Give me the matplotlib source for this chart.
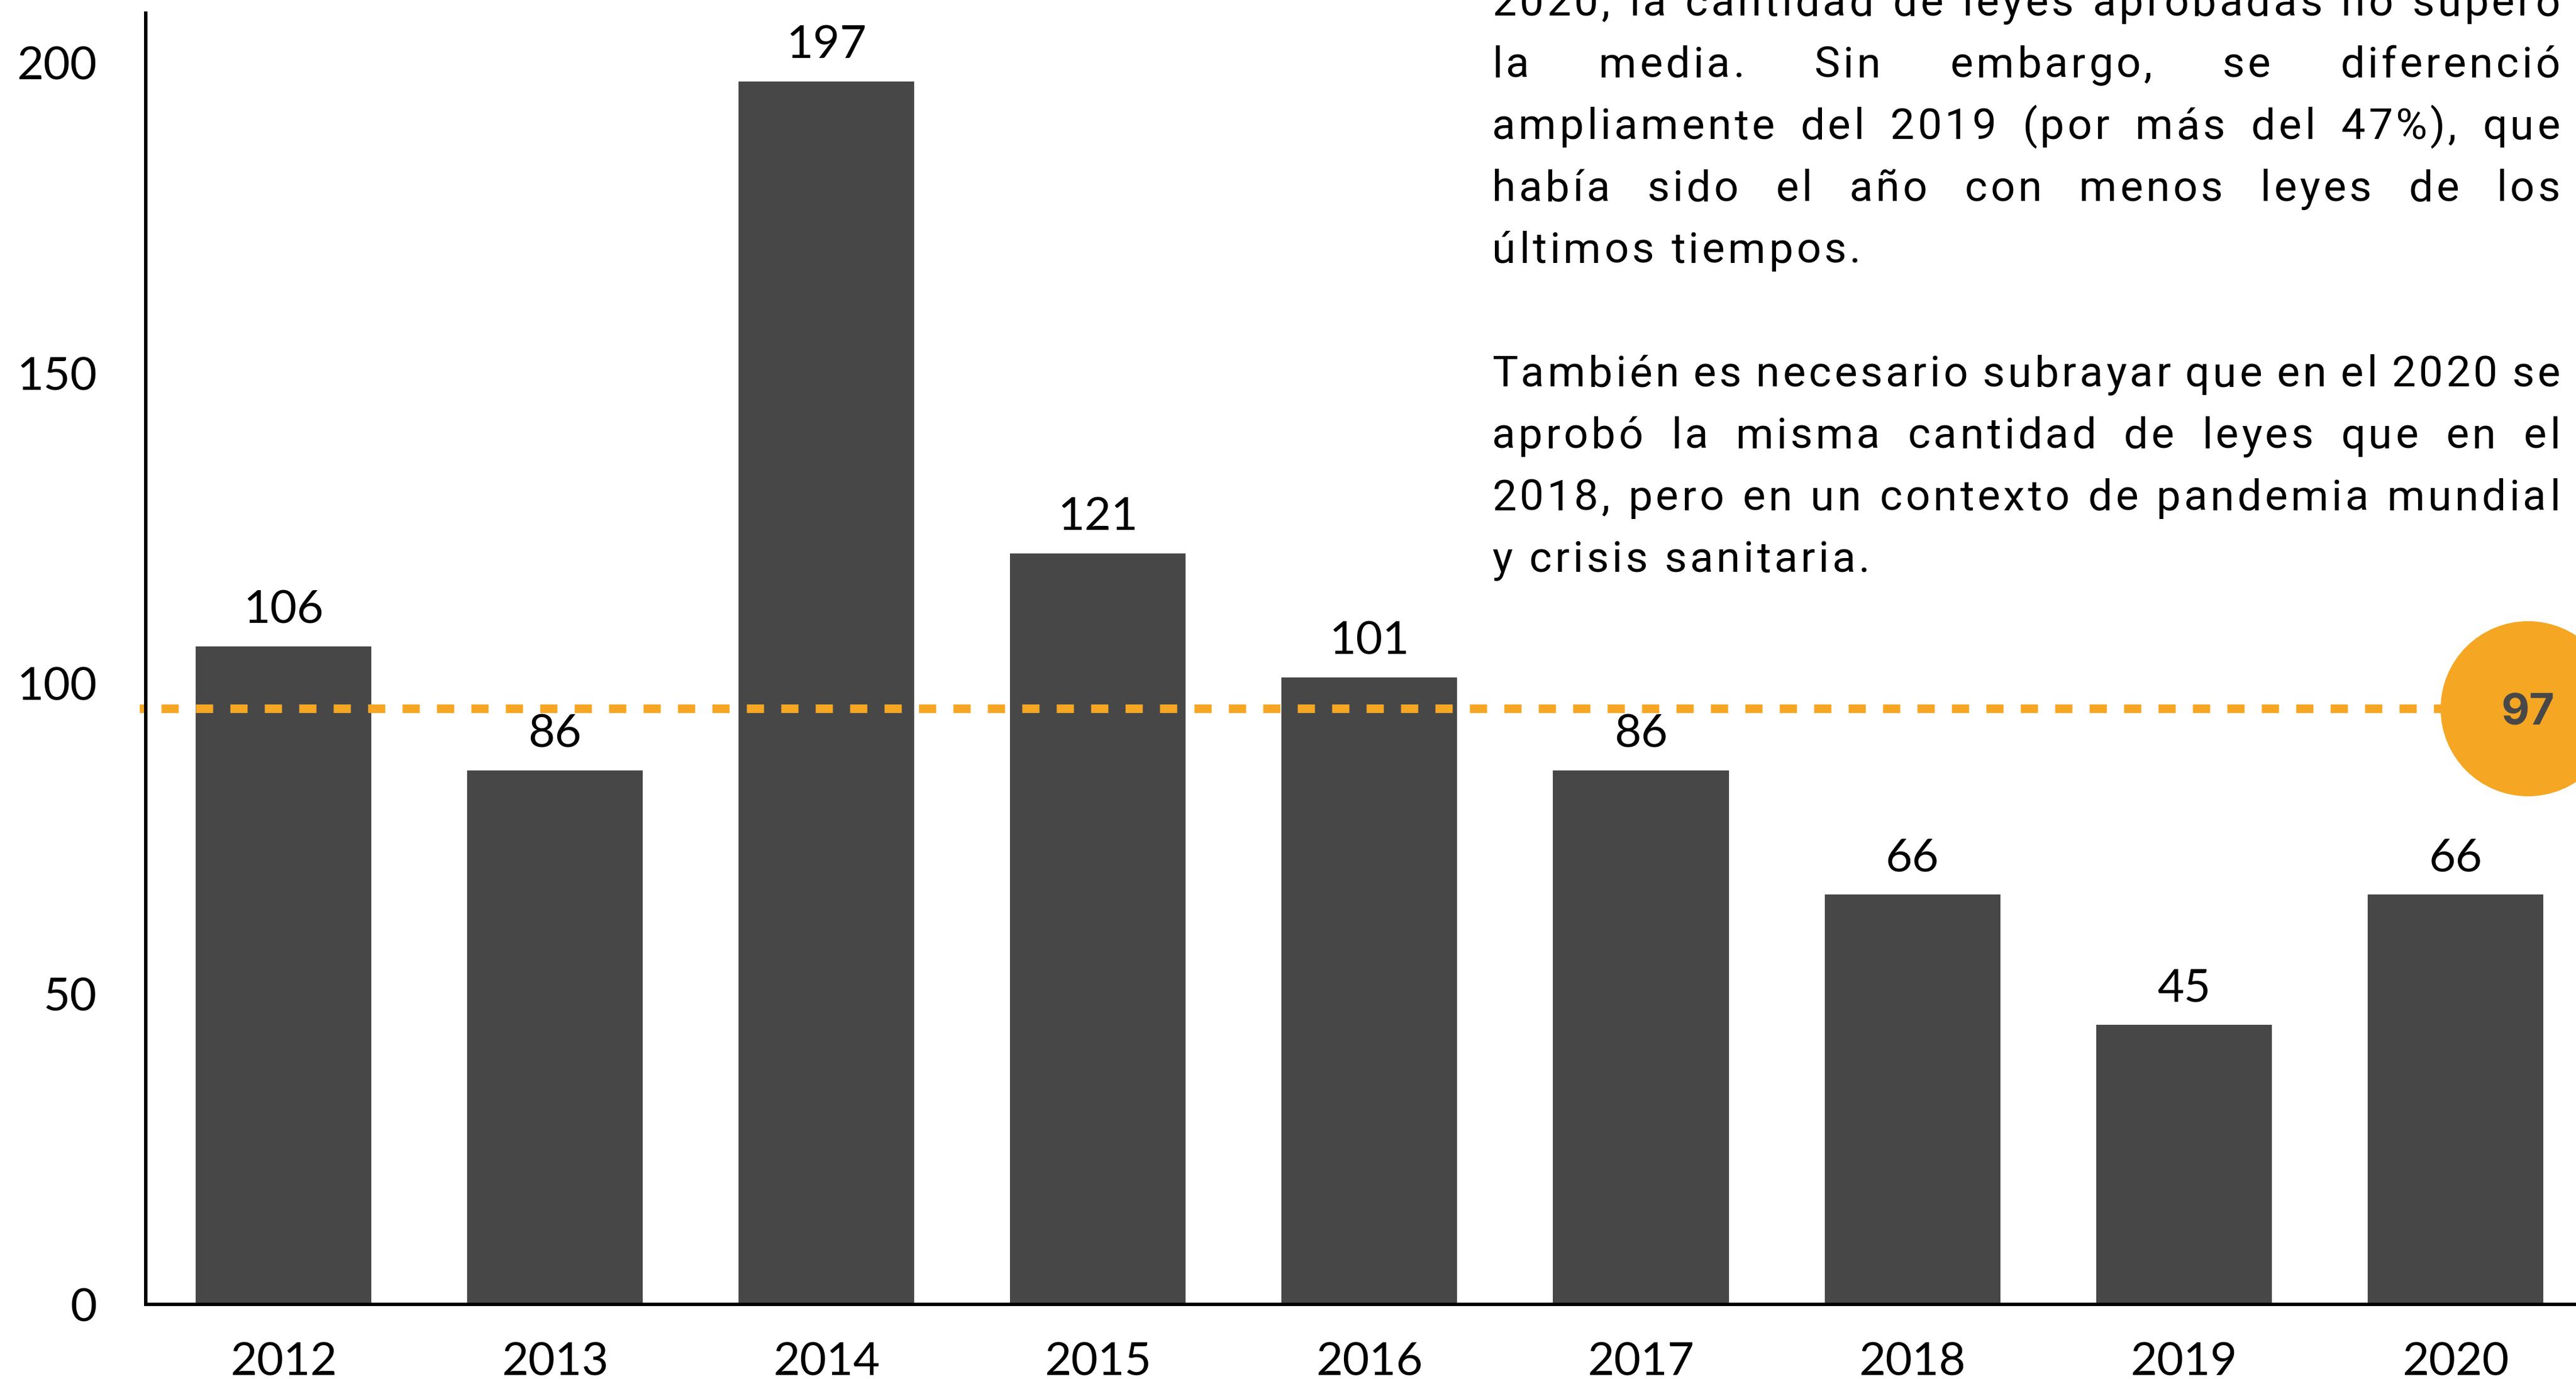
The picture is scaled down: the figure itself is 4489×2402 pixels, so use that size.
import matplotlib
matplotlib.use("Agg")
import matplotlib.pyplot as plt
from matplotlib.font_manager import FontProperties, findfont
from matplotlib.ft2font import FT2Font
from matplotlib.transforms import IdentityTransform

# datos
anios = ["2012", "2013", "2014", "2015", "2016", "2017", "2018", "2019", "2020"]
leyes = [106, 86, 197, 121, 101, 86, 66, 45, 66]
media_etiqueta = "97"
media_linea = 96
yticks = [0, 50, 100, 150, 200]

parrafo1 = [
    "2020, la cantidad de leyes aprobadas no superó",
    "la media. Sin embargo, se diferenció",
    "ampliamente del 2019 (por más del 47%), que",
    "había sido el año con menos leyes de los",
    "últimos tiempos.",
]
parrafo2 = [
    "También es necesario subrayar que en el 2020 se",
    "aprobó la misma cantidad de leyes que en el",
    "2018, pero en un contexto de pandemia mundial",
    "y crisis sanitaria.",
]

W, H = 4489, 2402
DPI = 300
GRIS = "#474747"
NARANJA = "#F5A623"

fig = plt.figure(figsize=(W / DPI, H / DPI), dpi=DPI)
ax = fig.add_axes([254 / W, (H - 2272) / H, 1 - 254 / W, (2272 - 23) / H])

x = list(range(len(anios)))
ax.bar(x, leyes, width=0.647, color=GRIS, zorder=2)
ax.set_xlim(-0.507, 8.444)
ax.set_ylim(0, 208)

for s in ["top", "right"]:
    ax.spines[s].set_visible(False)
for s in ["left", "bottom"]:
    ax.spines[s].set_linewidth(1.44)
    ax.spines[s].set_color("black")
    ax.spines[s].set_zorder(5)

ax.set_xticks(x)
ax.set_xticklabels(anios, fontfamily="Lato", fontsize=19.3)
ax.set_yticks(yticks)
ax.set_yticklabels([str(v) for v in yticks], fontfamily="Lato", fontsize=19.3)
ax.tick_params(axis="x", length=0, pad=15.8)
ax.tick_params(axis="y", length=0, pad=20.4)

for i, v in zip(x, leyes):
    ax.annotate(str(v), (i, v), xytext=(0, 9.8), textcoords="offset points",
                ha="center", va="baseline", fontfamily="Lato", fontsize=19.3)

# linea de la media y circulo
x0, x1 = ax.get_xlim()
xc = 8.266
ax.plot([x0 - 0.024, xc], [media_linea, media_linea], color=NARANJA, lw=3.6,
        linestyle=(1.47, (2, 2)), clip_on=False, zorder=3, solid_capstyle="butt",
        dash_capstyle="butt")
ax.plot([xc], [media_linea], "o", ms=73.2, color=NARANJA, mec="none",
        clip_on=False, zorder=4)
ax.annotate(media_etiqueta, (xc, media_linea), xytext=(0, -6.9), textcoords="offset points",
            ha="center", va="baseline", fontfamily="Inter", fontweight="bold",
            fontsize=18.2, color="#484848", zorder=6, annotation_clip=False)

# texto justificado con espaciado entre letras
tam = 18.0
track = 5.5
fp = FontProperties(family="Roboto")
ft = FT2Font(findfont(fp))
ft.set_size(tam, DPI)


def avance(c):
    g = ft.load_char(ord(c))
    return g.linearHoriAdvance / 65536.0


def ancho_palabra(p):
    return sum(avance(c) for c in p) + track * (len(p) - 1)


izq, der = 2600, 4461
ancho = der - izq
esp = avance(" ") + 2 * track
lineas = [(l, i < len(parrafo1) - 1) for i, l in enumerate(parrafo1)]
lineas += [None]
lineas += [(l, i < len(parrafo2) - 1) for i, l in enumerate(parrafo2)]

for k, item in enumerate(lineas):
    if item is None:
        continue
    linea, justificar = item
    base = 27 + 107.7 * k
    palabras = linea.split(" ")
    anchos = [ancho_palabra(p) for p in palabras]
    if justificar and len(palabras) > 1:
        hueco = (ancho - sum(anchos)) / (len(palabras) - 1)
    else:
        hueco = esp
    xp = izq
    for p, wp in zip(palabras, anchos):
        xc_ = xp
        for c in p:
            fig.text(xc_, H - base, c, transform=IdentityTransform(), fontfamily="Roboto",
                     fontsize=tam, ha="left", va="baseline", color="black")
            xc_ += avance(c) + track
        xp += wp + hueco

fig.savefig("out.png", dpi=DPI, facecolor="white")
